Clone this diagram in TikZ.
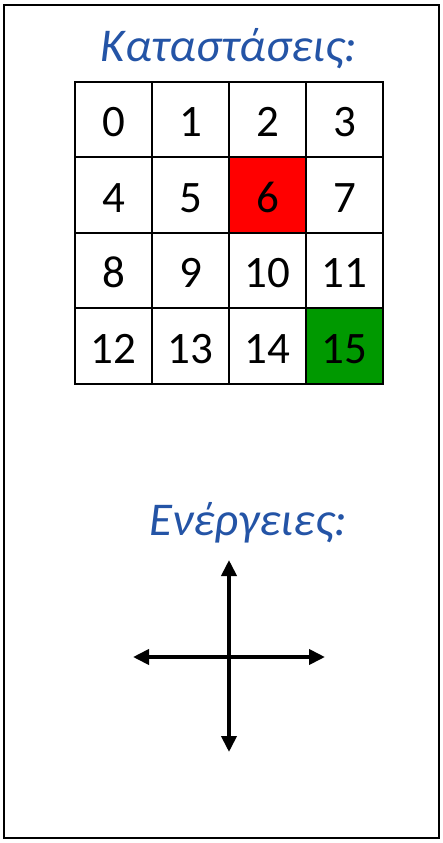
\documentclass[tikz,border=0pt]{standalone}
\usepackage{fontspec}
\setmainfont{Carlito}
\usetikzlibrary{arrows.meta}
\definecolor{titleblue}{RGB}{36,84,166}
\definecolor{cellred}{RGB}{255,0,0}
\definecolor{cellgreen}{RGB}{0,153,0}
\begin{document}
\begin{tikzpicture}[x=1pt,y=-1pt,
  cell/.style={draw=black,line width=2.2pt,minimum width=77pt,minimum height=75.5pt,inner sep=0pt,fill=white},
  num/.style={font=\fontsize{45}{45}\selectfont,inner sep=0pt,anchor=base,text=black},
  title/.style={font=\fontsize{47}{47}\selectfont\itshape,text=titleblue,inner sep=0pt,anchor=base},
  move/.style={line width=3.8pt,{Triangle[length=16pt,width=15pt]}-{Triangle[length=16pt,width=15pt]}}]
\useasboundingbox (0,0) rectangle (442,843);
\draw[line width=2.2pt] (4,5) rectangle (439,838);
\node[title] (t1) at (229,62) {Καταστάσεις:};
\foreach \r in {0,1,2,3}{
  \foreach \c in {0,1,2,3}{
    \pgfmathtruncatemacro{\n}{4*\r+\c}
    \node[cell] (c\n) at ({113.5+77*\c},{119.5+75.5*\r}) {};
  }
}
\node[cell,fill=cellred] at (c6) {};
\node[cell,fill=cellgreen] at (c15) {};
\foreach \n in {0,...,15}{
  \node[num] at ([yshift=-17pt]c\n.center) {\n};
}
\node[title] (t2) at (248,535) {Ενέργειες:};
\coordinate (up) at (229,560);
\coordinate (down) at (229,752);
\coordinate (left) at (133,657);
\coordinate (right) at (325,657);
\draw[move] (up) -- (down);
\draw[move] (left) -- (right);
\end{tikzpicture}
\end{document}
